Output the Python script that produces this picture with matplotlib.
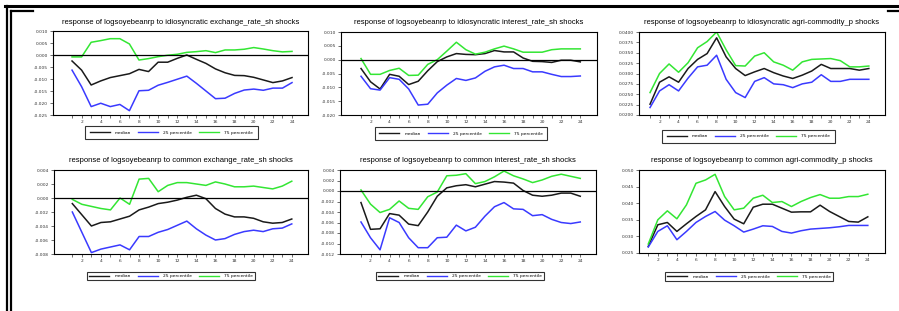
import matplotlib
matplotlib.use('Agg')
import numpy as np
import matplotlib.pyplot as plt
from matplotlib.lines import Line2D
from matplotlib.ticker import FormatStrFormatter

periods = list(range(1, 25))

titles = [
    "response of logsoyebeanrp to idiosyncratic exchange_rate_sh shocks",
    "response of logsoyebeanrp to idiosyncratic interest_rate_sh shocks",
    "response of logsoyebeanrp to idiosyncratic agri-commodity_p shocks",
    "response of logsoyebeanrp to common exchange_rate_sh shocks",
    "response of logsoyebeanrp to common interest_rate_sh shocks",
    "response of logsoyebeanrp to common agri-commodity_p shocks",
]
legend_labels = ["median", "25 percentile", "75 percentile"]

# idiosyncratic exchange rate
idio_fx_med = [-0.0025, -0.0063, -0.0125, -0.0108, -0.0094, -0.0086, -0.0078, -0.0060,
               -0.0069, -0.0030, -0.0030, -0.0014, 0.0000, -0.0018, -0.0035, -0.0058,
               -0.0074, -0.0085, -0.0086, -0.0093, -0.0104, -0.0115, -0.0108, -0.0094]
idio_fx_p25 = [-0.0063, -0.0132, -0.0215, -0.0201, -0.0215, -0.0206, -0.0232, -0.0149,
               -0.0147, -0.0126, -0.0114, -0.0101, -0.0088, -0.0118, -0.0150, -0.0182,
               -0.0180, -0.0160, -0.0146, -0.0142, -0.0147, -0.0138, -0.0138, -0.0115]
idio_fx_p75 = [-0.0008, -0.0008, 0.0053, 0.0060, 0.0068, 0.0068, 0.0046, -0.0021,
               -0.0015, -0.0007, -0.0001, 0.0003, 0.0011, 0.0014, 0.0018, 0.0010,
               0.0021, 0.0021, 0.0024, 0.0031, 0.0025, 0.0018, 0.0013, 0.0015]

# idiosyncratic interest rate
idio_ir_med = [-0.0032, -0.0080, -0.0106, -0.0053, -0.0060, -0.0090, -0.0078, -0.0040,
               -0.0007, 0.0010, 0.0022, 0.0019, 0.0018, 0.0022, 0.0033, 0.0028,
               0.0028, 0.0006, -0.0006, -0.0007, -0.0010, -0.0002, -0.0002, -0.0008]
idio_ir_p25 = [-0.0060, -0.0105, -0.0110, -0.0065, -0.0071, -0.0106, -0.0164, -0.0161,
               -0.0120, -0.0092, -0.0068, -0.0075, -0.0066, -0.0042, -0.0026, -0.0020,
               -0.0032, -0.0032, -0.0044, -0.0044, -0.0053, -0.0061, -0.0061, -0.0059]
idio_ir_p75 = [0.0004, -0.0053, -0.0053, -0.0039, -0.0031, -0.0057, -0.0056, -0.0017,
               0.0000, 0.0031, 0.0063, 0.0036, 0.0020, 0.0027, 0.0039, 0.0049,
               0.0039, 0.0027, 0.0027, 0.0027, 0.0036, 0.0039, 0.0039, 0.0039]

# idiosyncratic agri-commodity
idio_ag_med = [0.0226, 0.0279, 0.0292, 0.0279, 0.0312, 0.0334, 0.0348, 0.0386,
               0.0340, 0.0312, 0.0295, 0.0304, 0.0312, 0.0302, 0.0294, 0.0288,
               0.0296, 0.0306, 0.0322, 0.0312, 0.0312, 0.0312, 0.0308, 0.0312]
idio_ag_p25 = [0.0218, 0.0258, 0.0273, 0.0258, 0.0289, 0.0316, 0.0320, 0.0344,
               0.0286, 0.0254, 0.0242, 0.0281, 0.0290, 0.0275, 0.0273, 0.0266,
               0.0275, 0.0279, 0.0297, 0.0281, 0.0281, 0.0286, 0.0286, 0.0286]
idio_ag_p75 = [0.0254, 0.0300, 0.0323, 0.0303, 0.0326, 0.0362, 0.0377, 0.0400,
               0.0357, 0.0319, 0.0318, 0.0342, 0.0350, 0.0328, 0.0320, 0.0308,
               0.0328, 0.0334, 0.0335, 0.0336, 0.0331, 0.0316, 0.0316, 0.0318]

# common exchange rate
comm_fx_med = [-0.0008, -0.0024, -0.0040, -0.0035, -0.0034, -0.0030, -0.0026, -0.0017,
               -0.0013, -0.0008, -0.0006, -0.0003, 0.0001, 0.0004, -0.0001, -0.0015,
               -0.0023, -0.0027, -0.0027, -0.0029, -0.0034, -0.0036, -0.0035, -0.0030]
comm_fx_p25 = [-0.0020, -0.0049, -0.0078, -0.0073, -0.0070, -0.0067, -0.0074, -0.0055,
               -0.0055, -0.0049, -0.0045, -0.0039, -0.0033, -0.0044, -0.0053, -0.0060,
               -0.0058, -0.0052, -0.0048, -0.0046, -0.0048, -0.0044, -0.0043, -0.0037]
comm_fx_p75 = [-0.0002, -0.0009, -0.0012, -0.0015, -0.0017, 0.0000, -0.0009, 0.0027,
               0.0028, 0.0009, 0.0018, 0.0022, 0.0022, 0.0020, 0.0018, 0.0023,
               0.0020, 0.0016, 0.0016, 0.0017, 0.0015, 0.0013, 0.0017, 0.0024]

# common interest rate
comm_ir_med = [-0.0022, -0.0073, -0.0072, -0.0043, -0.0046, -0.0063, -0.0066, -0.0040,
               -0.0010, 0.0006, 0.0010, 0.0012, 0.0008, 0.0013, 0.0018, 0.0017,
               0.0015, 0.0001, -0.0008, -0.0010, -0.0008, -0.0004, -0.0004, -0.0010]
comm_ir_p25 = [-0.0059, -0.0089, -0.0112, -0.0051, -0.0060, -0.0089, -0.0108, -0.0108,
               -0.0089, -0.0088, -0.0065, -0.0076, -0.0069, -0.0048, -0.0030, -0.0022,
               -0.0034, -0.0035, -0.0047, -0.0045, -0.0054, -0.0060, -0.0062, -0.0059]
comm_ir_p75 = [0.0002, -0.0025, -0.0041, -0.0035, -0.0019, -0.0033, -0.0035, -0.0011,
               -0.0002, 0.0029, 0.0030, 0.0033, 0.0014, 0.0018, 0.0027, 0.0038,
               0.0029, 0.0023, 0.0016, 0.0021, 0.0028, 0.0032, 0.0028, 0.0024]

# common agri-commodity
comm_ag_med = [0.0270, 0.0335, 0.0342, 0.0315, 0.0338, 0.0360, 0.0380, 0.0435,
               0.0390, 0.0352, 0.0338, 0.0388, 0.0397, 0.0397, 0.0385, 0.0373,
               0.0374, 0.0374, 0.0394, 0.0375, 0.0360, 0.0345, 0.0343, 0.0359]
comm_ag_p25 = [0.0268, 0.0315, 0.0332, 0.0290, 0.0315, 0.0342, 0.0360, 0.0375,
               0.0349, 0.0332, 0.0313, 0.0322, 0.0332, 0.0330, 0.0315, 0.0310,
               0.0317, 0.0322, 0.0324, 0.0326, 0.0329, 0.0333, 0.0333, 0.0333]
comm_ag_p75 = [0.0277, 0.0350, 0.0377, 0.0353, 0.0395, 0.0460, 0.0470, 0.0487,
               0.0420, 0.0380, 0.0385, 0.0415, 0.0424, 0.0402, 0.0405, 0.0390,
               0.0405, 0.0417, 0.0426, 0.0415, 0.0415, 0.0420, 0.0420, 0.0427]

series = [
    (idio_fx_med, idio_fx_p25, idio_fx_p75),
    (idio_ir_med, idio_ir_p25, idio_ir_p75),
    (idio_ag_med, idio_ag_p25, idio_ag_p75),
    (comm_fx_med, comm_fx_p25, comm_fx_p75),
    (comm_ir_med, comm_ir_p25, comm_ir_p75),
    (comm_ag_med, comm_ag_p25, comm_ag_p75),
]

# layout in pixels: (left, right, top, bottom), xlim, ylim, ytick step, fmt, zero line, legend box
W, H = 899, 311
panels = [
    ((53, 308, 31, 115), (-0.99, 25.67), (-0.025, 0.010), 0.005, '%.3f', True, (93, 250, 125, 140)),
    ((341, 597, 32, 115), (-1.1, 25.75), (-0.020, 0.010), 0.005, '%.3f', True, (381, 541, 126, 141)),
    ((639, 885, 32, 115), (-0.16, 25.7), (0.0200, 0.0400), 0.0025, '%.4f', False, (669, 828, 129, 143)),
    ((54, 308, 170, 254), (-0.92, 25.7), (-0.008, 0.004), 0.002, '%.3f', True, (92, 250, 271, 281)),
    ((340, 596, 170, 254), (-1.2, 25.65), (-0.012, 0.004), 0.002, '%.3f', True, (381, 539, 271, 281)),
    ((639, 885, 170, 253), (0.03, 25.8), (0.025, 0.050), 0.005, '%.3f', False, (669, 829, 272, 281)),
]

colors = ['#1a1a1a', '#3a3aff', '#33e633']
title_font = ['Liberation Sans Narrow', 'Liberation Sans', 'DejaVu Sans']

fig = plt.figure(figsize=(W / 100, H / 100), dpi=100)

for i, (rect, xl, yl, step, fmt, zero, leg) in enumerate(panels):
    l, r, t, b = rect
    ax = fig.add_axes([l / W, 1 - b / H, (r - l) / W, (b - t) / H])
    med, p25, p75 = series[i]
    for vals, c, lab in zip((med, p25, p75), colors, legend_labels):
        ax.plot(periods, vals, color=c, lw=1.1, label=lab)
    if zero:
        ax.axhline(0, color='black', lw=0.9)
    ax.set_xlim(*xl)
    ax.set_ylim(*yl)
    ax.set_yticks(np.arange(yl[0], yl[1] + step / 2, step))
    ax.yaxis.set_major_formatter(FormatStrFormatter(fmt))
    ax.set_xticks(periods)
    ax.set_xticklabels([str(p) if p % 2 == 0 else '' for p in periods])
    ax.tick_params(axis='both', labelsize=3.2, length=2, width=0.5, pad=1.5,
                   direction='out', colors='#333333')
    for s in ax.spines.values():
        s.set_linewidth(0.8)
    cx = (l + r) / 2
    fig.text(cx / W, 1 - (t - 9) / H, titles[i], ha='center', va='center',
             fontsize=5.5, family=title_font)
    ll, lr, lt, lb = leg
    handles = [Line2D([0], [0], color=c, lw=1.0) for c in colors]
    lg = ax.legend(handles, legend_labels, loc='center',
                   bbox_to_anchor=((ll + lr) / 2 / W, 1 - (lt + lb) / 2 / H),
                   bbox_transform=fig.transFigure, ncol=3, fontsize=3.2,
                   handlelength=4.5, columnspacing=1.5, handletextpad=1.2,
                   borderpad=1.0 if i < 3 else 0.5, frameon=True, fancybox=False)
    lg.get_frame().set_edgecolor('black')
    lg.get_frame().set_linewidth(0.8)

# scanned page border
fig.add_artist(Line2D([5 / W, 1], [1 - 6 / H, 1 - 6 / H], color='black', lw=2.2))
fig.add_artist(Line2D([7 / W, 7 / W], [1 - 6 / H, 0], color='black', lw=1.6))
fig.add_artist(Line2D([11 / W, 11 / W], [1 - 11 / H, 0], color='black', lw=1.6))
fig.add_artist(Line2D([11 / W, 33 / W], [1 - 11 / H, 1 - 11 / H], color='black', lw=1.6))
fig.add_artist(Line2D([888 / W, 1], [1 - 11 / H, 1 - 11 / H], color='black', lw=1.6))

fig.savefig('out.png', dpi=100)
